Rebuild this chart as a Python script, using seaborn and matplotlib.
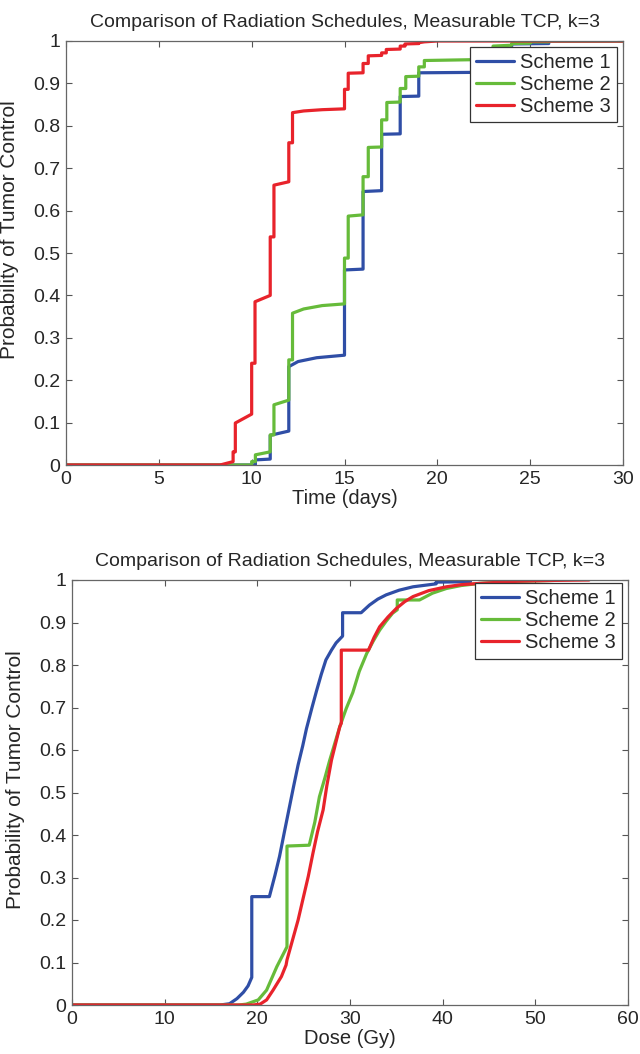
import numpy as np
import pandas as pd
import matplotlib
matplotlib.use("Agg")
import matplotlib.pyplot as plt
import seaborn as sns

# ---- data: top panel, TCP vs time (days)
t1_x = [0, 10.2, 10.2, 11.0, 11.0, 12.0, 12.0, 12.5, 13.5, 15.0, 15.0, 16.0, 16.0, 17.0, 17.0,
        18.0, 18.0, 19.0, 19.0, 22.0, 22.0, 23.0, 23.0, 24.0, 24.0, 26.0, 26.0, 30]
t1_y = [0, 0, 0.012, 0.014, 0.07, 0.08, 0.232, 0.244, 0.253, 0.259, 0.46, 0.462, 0.645, 0.647, 0.78,
        0.781, 0.869, 0.87, 0.925, 0.926, 0.96, 0.962, 0.98, 0.981, 0.993, 0.994, 1.0, 1.0]

t2_x = [0, 10.0, 10.0, 10.2, 10.2, 11.0, 11.0, 11.2, 11.2, 12.0, 12.0, 12.2, 12.2, 12.8, 13.8,
        15.0, 15.0, 15.2, 15.2, 16.0, 16.0, 16.28, 16.28, 17.0, 17.0, 17.28, 17.28, 18.0, 18.0,
        18.3, 18.3, 19.0, 19.0, 19.3, 19.3, 22.0, 22.0, 22.3, 22.3, 23.0, 23.0, 24.0, 24.0,
        25.0, 25.0, 26.0, 26.0, 30]
t2_y = [0, 0, 0.008, 0.008, 0.024, 0.031, 0.071, 0.071, 0.142, 0.153, 0.248, 0.248, 0.358, 0.368, 0.376,
        0.38, 0.488, 0.488, 0.587, 0.59, 0.68, 0.68, 0.749, 0.75, 0.814, 0.814, 0.855, 0.856, 0.888,
        0.888, 0.916, 0.917, 0.939, 0.939, 0.954, 0.956, 0.967, 0.968, 0.978, 0.98, 0.988, 0.99, 0.994,
        0.995, 0.998, 0.998, 1.0, 1.0]

t3_x = [0, 8.3, 9.0, 9.0, 9.12, 9.12, 10.0, 10.0, 10.18, 10.18, 11.0, 11.0, 11.2, 11.2, 12.0, 12.0,
        12.2, 12.2, 12.8, 13.8, 15.0, 15.0, 15.2, 15.2, 16.0, 16.0, 16.28, 16.28, 17.0, 17.0,
        17.25, 17.25, 18.0, 18.0, 18.26, 18.26, 19.0, 19.0, 19.3, 20.0, 30]
t3_y = [0, 0, 0.008, 0.031, 0.031, 0.099, 0.12, 0.24, 0.24, 0.385, 0.40, 0.538, 0.538, 0.66, 0.668, 0.76,
        0.76, 0.831, 0.835, 0.838, 0.84, 0.886, 0.886, 0.924, 0.925, 0.947, 0.947, 0.965, 0.966, 0.972,
        0.972, 0.98, 0.981, 0.988, 0.988, 0.993, 0.994, 0.996, 0.998, 1.0, 1.0]

# ---- data: bottom panel, TCP vs dose (Gy)
b1_x = [0, 16.0, 17.0, 17.8, 18.5, 19.0, 19.4, 19.4, 21.3, 21.9, 22.4, 22.9, 23.4, 23.9, 24.4,
        24.9, 25.3, 25.9, 26.4, 26.9, 27.4, 28.0, 28.5, 29.2, 29.2, 31.2, 32.1, 33.0, 33.9,
        35.3, 36.8, 39.3, 39.3, 43.0]
b1_y = [0, 0, 0.003, 0.015, 0.03, 0.045, 0.065, 0.255, 0.255, 0.305, 0.35, 0.405, 0.459, 0.513, 0.565,
        0.61, 0.65, 0.7, 0.74, 0.778, 0.812, 0.835, 0.852, 0.868, 0.923, 0.923, 0.941, 0.955, 0.965,
        0.976, 0.984, 0.991, 0.995, 0.996]

b2_x = [0, 18.0, 18.8, 20.1, 21.0, 22.1, 23.2, 23.2, 25.6, 26.2, 26.7, 27.3, 27.8, 28.9, 29.6,
        30.3, 31.0, 31.8, 32.5, 33.2, 33.9, 34.6, 35.1, 35.1, 37.5, 38.9, 40.4, 42.0, 44.0, 48.0, 52.0]
b2_y = [0, 0, 0.002, 0.012, 0.035, 0.09, 0.137, 0.374, 0.376, 0.43, 0.49, 0.535, 0.575, 0.655, 0.698,
        0.735, 0.785, 0.827, 0.856, 0.882, 0.903, 0.922, 0.93, 0.953, 0.953, 0.969, 0.98, 0.987, 0.992,
        0.997, 0.999]

b3_x = [0, 19.5, 20.3, 21.0, 21.7, 22.6, 23.1, 23.2, 23.8, 24.4, 24.9, 25.5, 26.0, 26.5, 27.1,
        27.5, 28.0, 28.5, 28.9, 29.06, 29.06, 32.0, 32.6, 33.2, 34.1, 35.0, 35.9, 36.8, 38.5,
        40.4, 42.0, 44.0, 48.0, 52.0, 55.8]
b3_y = [0, 0, 0.002, 0.012, 0.035, 0.067, 0.094, 0.106, 0.153, 0.2, 0.247, 0.303, 0.357, 0.408, 0.459,
        0.516, 0.576, 0.62, 0.655, 0.663, 0.835, 0.835, 0.865, 0.89, 0.913, 0.933, 0.949, 0.961, 0.975,
        0.984, 0.989, 0.992, 0.997, 0.999, 1.0]

schemes = ["Scheme 1", "Scheme 2", "Scheme 3"]
colors = {"Scheme 1": "#2f4ea6", "Scheme 2": "#66bb3a", "Scheme 3": "#e8232b"}
title = "Comparison of Radiation Schedules, Measurable TCP, k=3"


def make_df(xs, ys):
    parts = []
    for name, x, y in zip(schemes, xs, ys):
        parts.append(pd.DataFrame({"x": x, "y": y, "scheme": name}))
    return pd.concat(parts, ignore_index=True)


top = make_df([t1_x, t2_x, t3_x], [t1_y, t2_y, t3_y])
bot = make_df([b1_x, b2_x, b3_x], [b1_y, b2_y, b3_y])

sns.set_style("ticks")
plt.rcParams["font.family"] = ["Liberation Sans", "DejaVu Sans"]
plt.rcParams["font.size"] = 14

fig = plt.figure(figsize=(6.4, 10.54), dpi=100)
ax1 = fig.add_axes([66 / 640, 1 - 465 / 1054, 557 / 640, 424 / 1054])
ax2 = fig.add_axes([72 / 640, 1 - 1005 / 1054, 556 / 640, 425 / 1054])


def style(ax, df, xmax, xstep, xlabel, anchor, ylab_y):
    sns.lineplot(data=df, x="x", y="y", hue="scheme", hue_order=schemes, palette=colors,
                 sort=False, estimator=None, linewidth=2.3, ax=ax)
    ax.set_xlim(0, xmax)
    ax.set_ylim(0, 1)
    ax.set_xticks(np.arange(0, xmax + 0.1, xstep))
    yt = np.round(np.arange(0, 1.01, 0.1), 1)
    ax.set_yticks(yt)
    ax.set_yticklabels(["0" if v == 0 else ("1" if v == 1 else f"{v:g}") for v in yt])
    ax.set_xlabel(xlabel, fontsize=14.5, labelpad=1)
    ax.set_ylabel("Probability of Tumor Control", fontsize=15)
    ax.yaxis.set_label_coords(-0.085, ylab_y)
    ax.set_title(title, fontsize=14, pad=10)
    ax.tick_params(direction="in", top=True, right=True, length=4, width=0.8,
                   labelsize=14, color="#555555", pad=4)
    for s in ax.spines.values():
        s.set_visible(True)
        s.set_color("#666666")
        s.set_linewidth(0.9)
    leg = ax.legend(loc="upper right", bbox_to_anchor=anchor, borderaxespad=0, fontsize=14.5,
                    frameon=True, fancybox=False, framealpha=1, edgecolor="#333333",
                    handlelength=1.9, handletextpad=0.3, labelspacing=0.15, borderpad=0.3)
    leg.get_frame().set_linewidth(0.9)
    for h in leg.get_lines():
        h.set_linewidth(2.3)


style(ax1, top, 30, 5, "Time (days)", (0.9887, 0.9866), 0.554)
style(ax2, bot, 60, 10, "Dose (Gy)", (0.9887, 0.992), 0.53)

fig.savefig("out.png", dpi=100)
